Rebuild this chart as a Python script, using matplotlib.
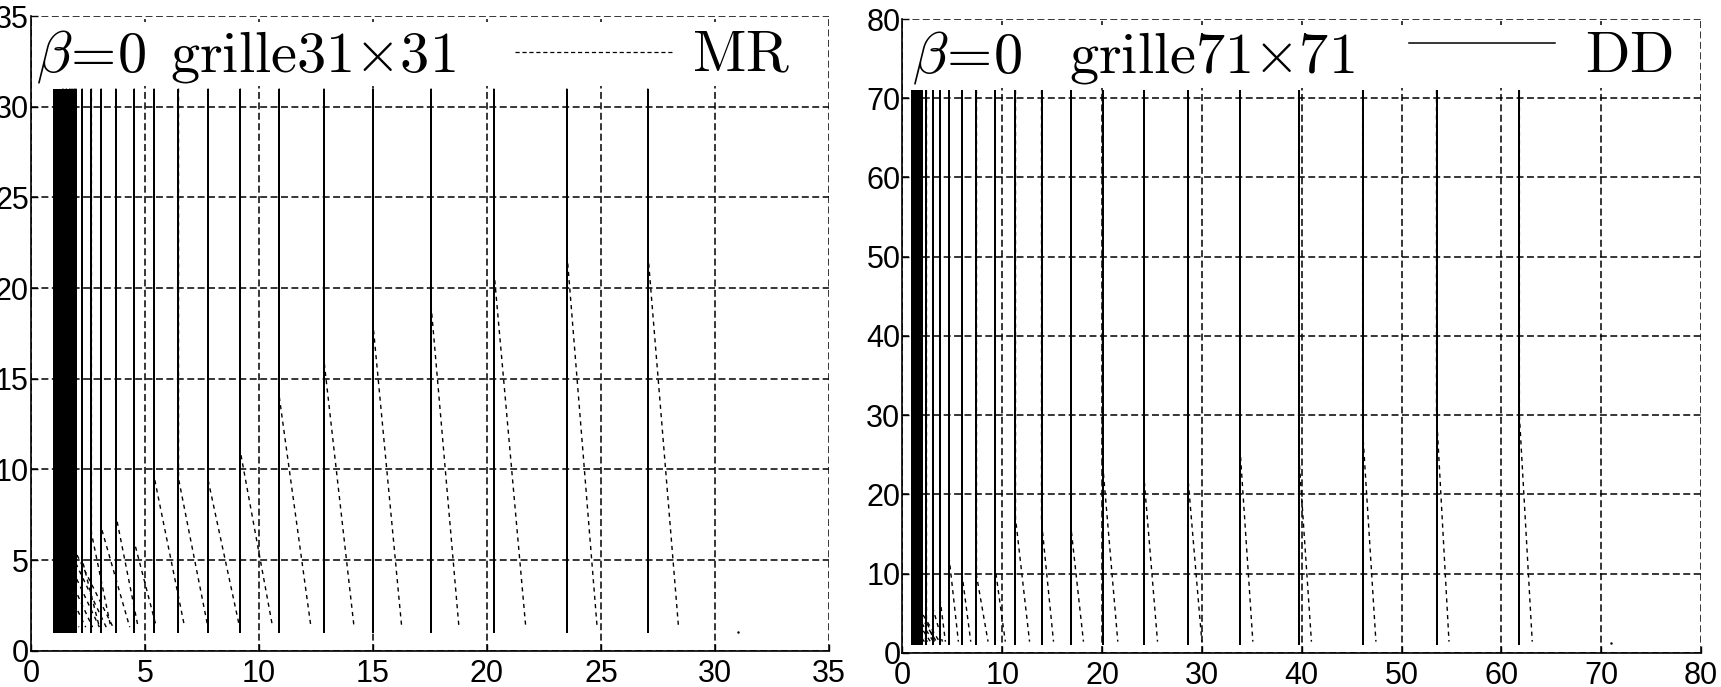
import matplotlib
matplotlib.use("Agg")
import matplotlib.pyplot as plt
from matplotlib.patches import Rectangle

plt.rcParams['mathtext.fontset'] = 'cm'
plt.rcParams['lines.scale_dashes'] = False

TICK_FONT = ['Liberation Sans Narrow', 'Liberation Sans', 'DejaVu Sans']

# ----- grille 31x31 (left) -----
dd_x_31 = [1.03, 1.09, 1.15, 1.21, 1.27, 1.33, 1.39, 1.45, 1.52, 1.59, 1.66, 1.73,
           1.81, 1.89, 1.97, 2.25, 2.65, 3.08, 3.72, 4.53, 5.40, 6.47, 7.77, 9.18,
           10.89, 12.85, 15.0, 17.55, 20.3, 23.5, 27.05]
dd_ylo_31, dd_yhi_31 = 1.0, 31.0
mr_top_31 = [1.4, 1.55, 1.7, 1.8, 1.9, 1.97, 2.25, 2.65, 3.08, 3.72, 4.53, 5.40,
             6.47, 7.77, 9.18, 10.89, 12.85, 15.0, 17.55, 20.3, 23.5, 27.05]
mr_knee_31 = [3.0, 3.5, 4.0, 4.5, 5.0, 5.4, 5.0, 6.5, 6.8, 7.5, 6.0, 9.6,
              9.5, 9.4, 11.0, 14.0, 16.0, 18.0, 19.0, 21.0, 22.0, 22.0]
mr_bot_31 = [2.1, 2.4, 2.7, 3.0, 3.3, 3.6, 3.0, 3.5, 4.33, 4.7, 5.5, 6.74,
             7.76, 9.15, 10.6, 12.28, 14.17, 16.26, 18.77, 21.7, 24.83, 28.4]
mr_ybot_31 = 1.3
corner_31 = (31.0, 1.05)

# ----- grille 71x71 (right) -----
dd_x_71 = [0.95, 0.97, 0.99, 1.01, 1.03, 1.05, 1.07, 1.09, 1.11, 1.13, 1.15, 1.17,
           1.19, 1.21, 1.23, 1.25, 1.27, 1.29, 1.31, 1.33, 1.35, 1.37, 1.39, 1.41,
           1.43, 1.45, 1.47, 1.49, 1.51, 1.53, 1.55, 1.57, 1.59, 1.61, 1.63, 1.65,
           1.67, 1.69, 1.71, 1.73, 1.75, 1.77, 1.79, 1.81, 1.83, 1.85, 1.87, 1.89,
           1.91, 1.93, 1.95, 1.97, 1.99,
           2.4, 3.07, 3.74, 4.67, 5.97, 7.41, 9.25, 11.32, 13.93, 16.86, 20.04,
           24.2, 28.6, 33.8, 39.7, 46.1, 53.5, 61.8]
dd_ylo_71, dd_yhi_71 = 1.0, 71.0
mr_top_71 = [1.5, 1.6, 1.7, 1.8, 1.9, 1.95, 2.4, 3.07, 3.74, 4.67, 5.97, 7.41,
             9.25, 11.32, 13.93, 16.86, 20.04, 24.2, 28.6, 33.8, 39.7, 46.1, 53.5, 61.8]
mr_knee_71 = [2.5, 3.0, 3.5, 4.0, 4.5, 5.0, 4.0, 5.5, 7.0, 12.0, 9.8, 9.8,
              11.0, 17.0, 16.5, 16.0, 24.0, 22.0, 22.0, 26.0, 25.0, 28.0, 30.0, 30.0]
mr_bot_71 = [2.2, 2.5, 2.8, 3.1, 3.4, 3.7, 3.2, 4.0, 4.3, 5.6, 6.84, 8.57,
             10.3, 12.73, 15.13, 18.13, 21.57, 25.55, 29.99, 35.1, 40.97, 47.43, 54.75, 63.09]
mr_ybot_71 = 1.4
corner_71 = (71.0, 1.25)


def draw_panel(ax, dd_x, ylo, yhi, mr_top, mr_knee, mr_bot, mr_ybot, corner,
               lim, step, box_lo):
    # DD: straight columns, drawn crisp like the original screen capture
    ax.vlines(dd_x, ylo, yhi, color='k', lw=1.1, zorder=2, antialiased=False)
    # MR: columns bent to the right near the bottom
    for t, k, b in zip(mr_top, mr_knee, mr_bot):
        ax.plot([t, t, b], [yhi, k, mr_ybot], color='k', lw=1.0,
                dashes=(3, 3), zorder=2)
    ax.plot([corner[0]], [corner[1]], 'k.', ms=1.5)

    ax.set_xlim(0, lim)
    ax.set_ylim(0, lim)
    ticks = list(range(0, lim + 1, step))
    ax.set_xticks(ticks)
    ax.set_yticks(ticks)
    ax.grid(True, color='k', lw=1.1, dashes=(5, 2.5))
    ax.spines['top'].set_visible(False)
    ax.spines['right'].set_visible(False)
    ax.spines['left'].set_linewidth(1.2)
    ax.spines['bottom'].set_linewidth(1.2)
    ax.tick_params(direction='in', length=5, width=1, pad=6, labelsize=22)
    for lab in ax.get_xticklabels() + ax.get_yticklabels():
        lab.set_family(TICK_FONT)
    ax.tick_params(axis='y', pad=1.5)

    # white legend area along the top
    ax.add_patch(Rectangle((0.003, box_lo / lim), 0.99, 0.99 - box_lo / lim,
                           transform=ax.transAxes, facecolor='white',
                           edgecolor='none', zorder=3))


fig = plt.figure(figsize=(17.21, 6.87), dpi=100)
ax1 = fig.add_axes([0.018, 0.0528, 0.4637, 0.9239])
ax2 = fig.add_axes([0.5244, 0.0499, 0.464, 0.9224])

draw_panel(ax1, dd_x_31, dd_ylo_31, dd_yhi_31, mr_top_31, mr_knee_31, mr_bot_31,
           mr_ybot_31, corner_31, 35, 5, 31.15)
draw_panel(ax2, dd_x_71, dd_ylo_71, dd_yhi_71, mr_top_71, mr_knee_71, mr_bot_71,
           mr_ybot_71, corner_71, 80, 10, 71.3)

FS = 42
# left legend
ax1.text(0.006, 0.912, r'$\beta\!=\!0$', transform=ax1.transAxes, fontsize=FS, zorder=4)
ax1.text(0.174, 0.912, r'$\mathrm{grille}31{\times}31$', transform=ax1.transAxes,
         fontsize=FS, zorder=4)
ax1.plot([0.607, 0.803], [0.943, 0.943], transform=ax1.transAxes, color='k',
         lw=0.9, dashes=(3, 2), zorder=4, clip_on=False)
ax1.text(0.828, 0.912, r'$\mathrm{MR}$', transform=ax1.transAxes, fontsize=FS, zorder=4)

# right legend
ax2.text(0.012, 0.916, r'$\beta\!=\!0$', transform=ax2.transAxes, fontsize=FS, zorder=4)
ax2.text(0.208, 0.916, r'$\mathrm{grille}71{\times}71$', transform=ax2.transAxes,
         fontsize=FS, zorder=4)
ax2.plot([0.634, 0.817], [0.962, 0.962], transform=ax2.transAxes, color='k',
         lw=1.1, zorder=4, clip_on=False)
ax2.text(0.855, 0.916, r'$\mathrm{DD}$', transform=ax2.transAxes, fontsize=FS, zorder=4)

fig.savefig('out.png', dpi=100)
